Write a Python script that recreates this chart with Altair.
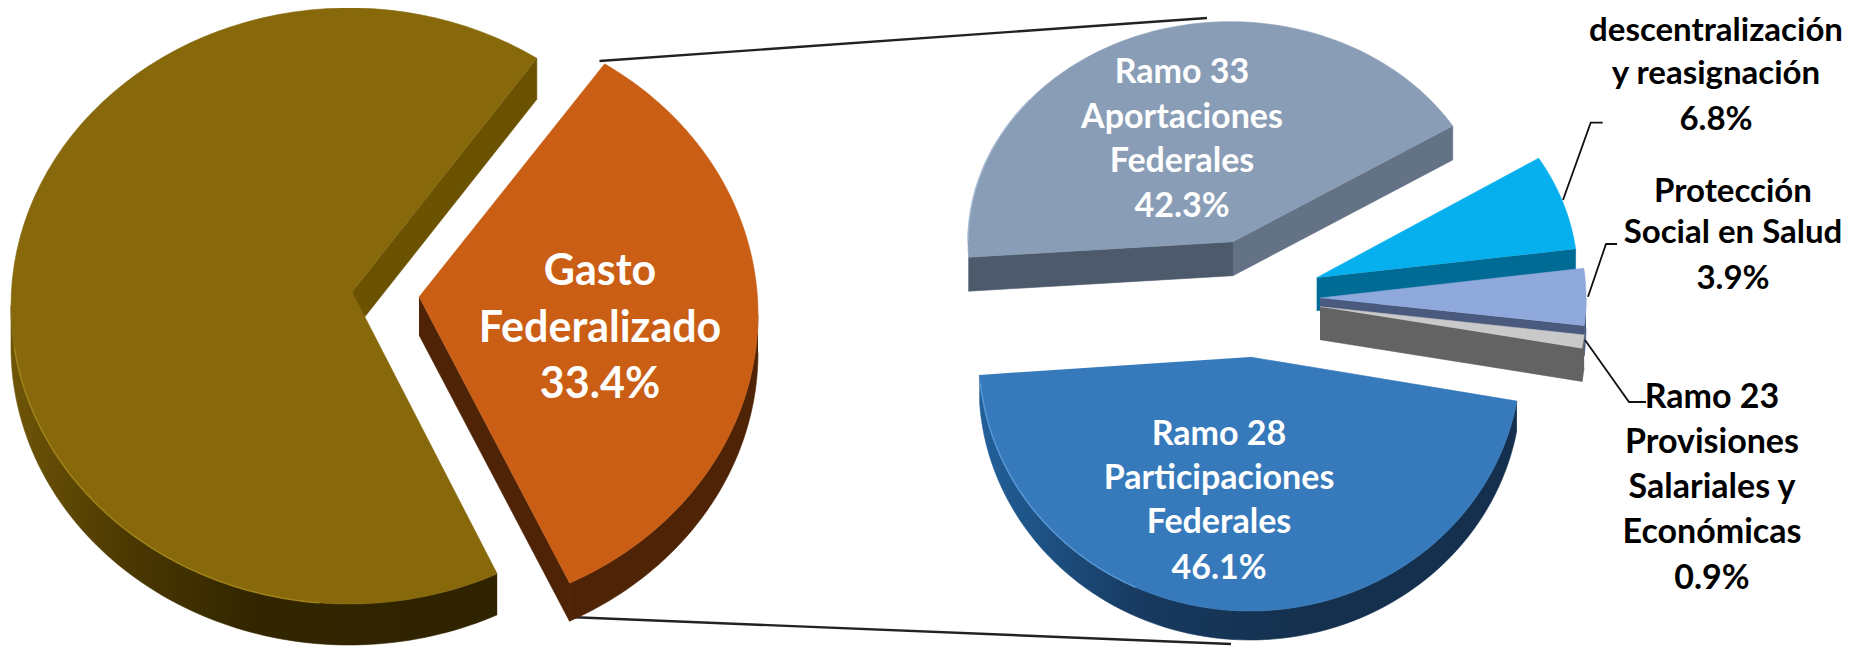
import altair as alt
import numpy as np
import pandas as pd

# ---- values ----
main_names = ["Resto", "Gasto Federalizado"]
main_values = [66.6, 33.4]
sub_names = ["Ramo 28", "Ramo 33", "Descentralizacion", "Proteccion", "Ramo 23"]
sub_values = [46.1, 42.3, 6.8, 3.9, 0.9]

FONT = "Lato"
W, H = 1838, 638
X_SCALE = alt.Scale(domain=[8, 8 + W], nice=False, zero=False)
Y_SCALE = alt.Scale(domain=[8 + H, 8], nice=False, zero=False)


def spans(values, start):
    out, a = [], start
    for v in values:
        out.append((a, a + v * 3.6))
        a += v * 3.6
    return out


gasto_span = (33.3, 33.3 + main_values[1] * 3.6)
resto_span = (154.0, 154.0 + main_values[0] * 3.6)
sub_span = dict(zip(sub_names, spans(sub_values, 100.0)))


def rim(g, a0, a1, dy=0.0, n=90):
    t = np.radians(np.linspace(a0, a1, n))
    return list(zip(g["cx"] + g["rx"] * np.sin(t), g["cy"] - g["ry"] * np.cos(t) + dy))


def poly(pts, fill):
    df = pd.DataFrame(pts, columns=["x", "y"])
    df["o"] = range(len(df))
    return alt.Chart(df).mark_line(fill=fill, stroke=fill, strokeWidth=0.6, interpolate="linear").encode(
        x=alt.X("x:Q", scale=X_SCALE, axis=None),
        y=alt.Y("y:Q", scale=Y_SCALE, axis=None),
        order="o:Q",
    )


def line(pts, color="#111111", width=2.0, opacity=1.0):
    df = pd.DataFrame(pts, columns=["x", "y"])
    df["o"] = range(len(df))
    return alt.Chart(df).mark_line(color=color, strokeWidth=width, opacity=opacity).encode(
        x=alt.X("x:Q", scale=X_SCALE, axis=None),
        y=alt.Y("y:Q", scale=Y_SCALE, axis=None),
        order="o:Q",
    )


def hgrad(*stops):
    return alt.Gradient(
        gradient="linear", x1=0, x2=1, y1=0, y2=0,
        stops=[alt.GradientStop(color=c, offset=o) for o, c in stops],
    )


def top(g, span):
    return [(g["vx"], g["vy"])] + rim(g, *span)


def outer_wall(g, span):
    a0, a1 = span
    if a0 >= 360:
        a0, a1 = a0 - 360, a1 - 360
    a0, a1 = max(a0, 90), min(a1, 270)
    return rim(g, a0, a1) + rim(g, a1, a0, g["d"])


def cut_wall(g, a):
    p = rim(g, a, a, n=1)[0]
    return [(g["vx"], g["vy"]), p, (p[0], p[1] + g["d"]), (g["vx"], g["vy"] + g["d"])]


# ---- layout of each slice ----
G_RESTO = dict(cx=349, cy=306, rx=338, ry=298, vx=352, vy=292, d=41)
G_GASTO = dict(cx=418, cy=314.6, rx=340, ry=300, vx=419, vy=297, d=38)
G_28 = dict(cx=1250, cy=357, rx=271, ry=254, vx=1250, vy=357, d=29)
G_33 = dict(cx=1230, cy=241.7, rx=262, ry=220, vx=1233, vy=241.7, d=34)
G_DES = dict(cx=1316.7, cy=277.7, rx=261, ry=227, vx=1316.7, vy=277.7, d=33)
G_PRO = dict(cx=1320, cy=298, rx=266, ry=235, vx=1320, vy=298, d=30)
G_R23 = dict(cx=1320, cy=306.7, rx=266, ry=240, vx=1320, vy=306.7, d=33)

layers = []

# connector lines
layers.append(line([(599.5, 61), (1207, 18)], "#222222", 2.4))
layers.append(line([(569, 617), (1231, 644)], "#222222", 2.4))

# left pie
layers += [
    poly(cut_wall(G_RESTO, resto_span[1]), "#6b5200"),
    poly(outer_wall(G_RESTO, resto_span), hgrad((0, "#6f5507"), (0.25, "#4a3802"), (0.5, "#322600"), (1, "#2f2300"))),
    poly(top(G_RESTO, resto_span), "#87680b"),
    line(rim(G_RESTO, 185, 262), "#a98a1c", 1.5, 0.8),
    poly(cut_wall(G_GASTO, gasto_span[1]), "#4f2305"),
    poly(outer_wall(G_GASTO, gasto_span), "#4f2305"),
    poly(top(G_GASTO, gasto_span), "#c95e14"),
]

# right pie
s = sub_span
layers += [
    poly(cut_wall(G_33, s["Ramo 33"][0]), "#4d5a6b"),
    poly(cut_wall(G_33, s["Ramo 33"][1]), "#647286"),
    poly(top(G_33, s["Ramo 33"]), "#8a9db6"),
    line(rim(G_33, 270, 310), "#a6bcd8", 1.5, 0.8),
    poly(cut_wall(G_DES, s["Descentralizacion"][1]), "#006b94"),
    poly(top(G_DES, s["Descentralizacion"]), "#06b0ee"),
    poly(cut_wall(G_PRO, s["Proteccion"][1]), "#4a5a7e"),
    poly(outer_wall(G_PRO, s["Proteccion"]), "#4a5a7e"),
    poly(top(G_PRO, s["Proteccion"]), "#8fa9dc"),
    poly(cut_wall(G_R23, s["Ramo 23"][1]), "#636363"),
    poly(outer_wall(G_R23, s["Ramo 23"]), "#636363"),
    poly(top(G_R23, s["Ramo 23"]), "#c9c9c9"),
    poly(outer_wall(G_28, s["Ramo 28"]), hgrad((0, "#22609a"), (0.3, "#173a60"), (0.6, "#14304e"), (1, "#14304e"))),
    poly(top(G_28, s["Ramo 28"]), "#377abb"),
    line(rim(G_28, 205, 264), "#5f9fdc", 1.5, 0.8),
]

# leader lines
layers += [
    line([(1563, 200), (1590.7, 122.7), (1602.7, 122.7)], "#111111", 1.8),
    line([(1588, 296.7), (1606, 244), (1617, 244)], "#111111", 1.8),
    line([(1585, 340), (1629, 402), (1646, 402)], "#111111", 1.8),
]

# text
white_labels = [
    ("Gasto", 600, 272, 43), ("Federalizado", 600, 329, 43), ("33.4%", 600, 385, 43),
    ("Ramo 33", 1182, 73, 34), ("Aportaciones", 1182, 118, 34), ("Federales", 1182, 162, 34), ("42.3%", 1182, 207, 34),
    ("Ramo 28", 1219, 435, 34), ("Participaciones", 1219, 479, 34), ("Federales", 1219, 523, 34), ("46.1%", 1219, 569, 34),
]
black_labels = [
    ("descentralización", 1716, 31, 33), ("y reasignación", 1716, 74, 33), ("6.8%", 1716, 120, 33),
    ("Protección", 1733, 192, 33), ("Social en Salud", 1733, 233, 33), ("3.9%", 1733, 279, 33),
    ("Ramo 23", 1712, 398, 34), ("Provisiones", 1712, 443, 34), ("Salariales y", 1712, 488, 34),
    ("Económicas", 1712, 533, 34), ("0.9%", 1712, 579, 34),
]


def text_layer(rows, color):
    df = pd.DataFrame(rows, columns=["t", "x", "y", "s"])
    out = []
    for size, part in df.groupby("s"):
        out.append(alt.Chart(part).mark_text(
            font=FONT, fontWeight="bold", fontSize=int(size), color=color, align="center", baseline="middle"
        ).encode(
            x=alt.X("x:Q", scale=X_SCALE, axis=None),
            y=alt.Y("y:Q", scale=Y_SCALE, axis=None),
            text="t:N",
        ))
    return out


layers += text_layer(white_labels, "#ffffff")
layers += text_layer(black_labels, "#000000")

chart = alt.layer(*layers).properties(
    width=W, height=H, padding=0, background="#ffffff",
    autosize=alt.AutoSizeParams(type="none"),
).configure_view(stroke=None)

chart.save("out.html", embed_options={"renderer": "svg", "actions": False})
